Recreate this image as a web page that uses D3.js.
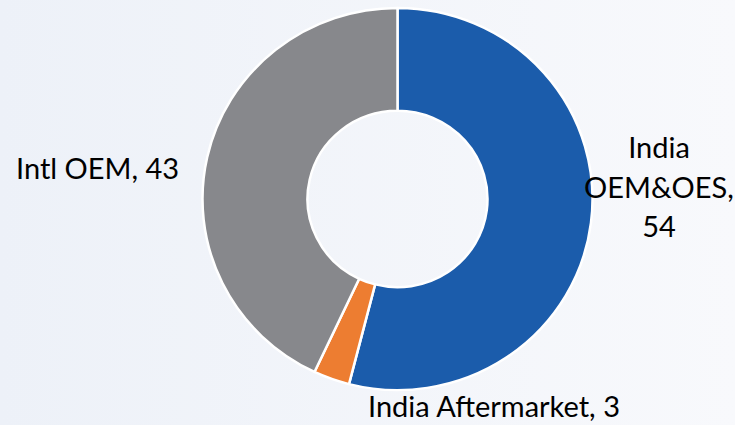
<!DOCTYPE html>
<html>
<head>
<meta charset="utf-8">
<script src="https://cdnjs.cloudflare.com/ajax/libs/d3/7.8.5/d3.min.js"></script>
<style>
  html, body { margin: 0; padding: 0; }
  body { width: 735px; height: 425px; overflow: hidden; }
  text { font-family: Lato, "Open Sans", sans-serif; fill: #000; }
</style>
</head>
<body>
<div id="chart"></div>
<script>
var categories = ["India OEM&OES", "India Aftermarket", "Intl OEM"],
  values = [54, 3, 43],
  colors = ["#1b5cab", "#ed7d31", "#87888c"];

// label lines per slice (as they wrap in the picture)
var labelLines = [
  ["India", "OEM&OES,", "54"],
  ["India Aftermarket, 3"],
  ["Intl OEM, 43"]
];

var width = 735,
  height = 425,
  cx = 397.5,
  cy = 199,
  rOuter = 195,
  rInner = 90;

var svg = d3.select("#chart").append("svg")
  .attr("width", width)
  .attr("height", height);

var defs = svg.append("defs");
var grad = defs.append("linearGradient")
  .attr("id", "bg")
  .attr("x1", "0%").attr("x2", "100%")
  .attr("y1", "0%").attr("y2", "0%");
grad.append("stop").attr("offset", "0%").attr("stop-color", "#edf1f8");
grad.append("stop").attr("offset", "100%").attr("stop-color", "#f8f9fc");

svg.append("rect")
  .attr("width", width)
  .attr("height", height)
  .attr("fill", "url(#bg)");

var pie = d3.pie().sort(null).value(function(d) { return d; });
var arcs = pie(values);

var arc = d3.arc()
  .innerRadius(rInner)
  .outerRadius(rOuter);

var g = svg.append("g")
  .attr("transform", "translate(" + cx + "," + cy + ") scale(1,0.98)");

g.selectAll("path")
  .data(arcs)
  .enter().append("path")
  .attr("d", arc)
  .attr("fill", function(d, i) { return colors[i]; })
  .attr("stroke", "#ffffff")
  .attr("stroke-width", 2.5)
  .attr("stroke-linejoin", "round");

// labels, placed beside their slices like the original layout
var fontSize = 29,
  lineH = 39.5;
var labelAt = [
  { x: 659, y: 158, anchor: "middle" },
  { x: 368, y: 417, anchor: "start" },
  { x: 16, y: 179, anchor: "start" }
];

var labels = svg.append("g").attr("class", "labels");
labelLines.forEach(function(lines, i) {
  var p = labelAt[i];
  var t = labels.append("text")
    .attr("x", p.x)
    .attr("y", p.y)
    .attr("text-anchor", p.anchor)
    .style("font-size", fontSize + "px");
  lines.forEach(function(s, j) {
    t.append("tspan")
      .attr("x", p.x)
      .attr("dy", j == 0 ? 0 : lineH)
      .text(s);
  });
});
</script>
</body>
</html>
